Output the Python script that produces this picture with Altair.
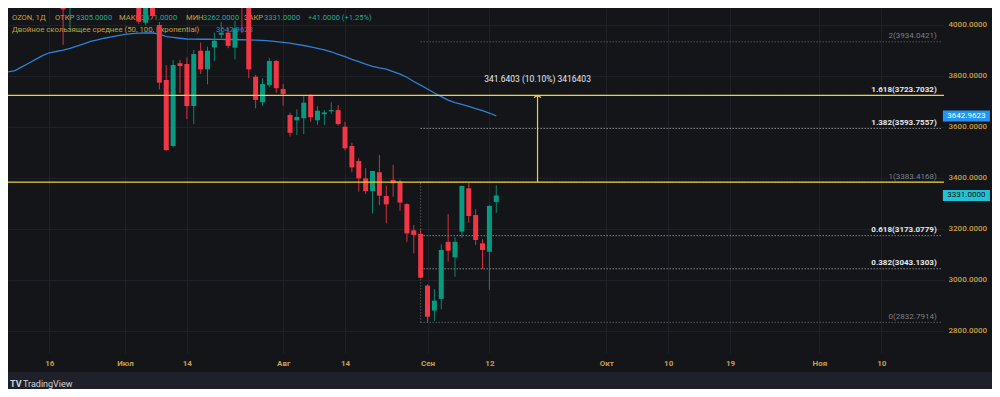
import altair as alt
import pandas as pd

# ---------------- data ----------------
bar_idx = [7, 8] + list(range(18, 71))
open_p = [4090, 4068, 4090, 4009, 4085, 4000, 3784, 3525, 3850, 3847, 3682, 3899, 3826, 3912, 3962,
          3970, 3911, 4095, 4080, 3797, 3697, 3764, 3859, 3749, 3647, 3626, 3634, 3723, 3626, 3650,
          3661, 3666, 3601, 3525, 3466, 3398, 3348, 3422, 3329, 3392, 3385, 3297, 3194, 3180, 2977,
          2879, 2925, 3149, 3088, 3189, 3359, 3254, 3143, 3110, 3305]
high_p = [4110, 4100, 4100, 4100, 4095, 4012, 3843, 3863, 3863, 3873, 3902, 3931, 3915, 3970, 4013,
          3987, 4017, 4110, 4090, 3804, 3791, 3870, 3863, 3768, 3656, 3669, 3721, 3728, 3682, 3666,
          3697, 3686, 3620, 3538, 3477, 3438, 3427, 3490, 3369, 3451, 3394, 3300, 3215, 3198, 2982,
          2963, 3139, 3258, 3167, 3370, 3379, 3277, 3159, 3292, 3371]
low_p = [3921.5, 3987, 4005, 4000, 4025, 3747.6, 3505, 3520, 3732, 3631, 3611, 3808, 3767, 3859, 3948,
         3909, 3865, 3968, 3791, 3673, 3683, 3755, 3734, 3683, 3562, 3568, 3572, 3620, 3608, 3608,
         3651, 3605, 3507, 3422, 3346, 3337, 3261, 3293, 3222, 3326, 3271, 3149, 3104, 3006, 2832.8,
         2838, 2884, 3071, 3012, 3165, 3224, 3137, 3042, 2960, 3262]
close_p = [4061.6, 4085, 4013, 4090, 4035, 3773.5, 3509, 3843, 3839, 3682, 3886, 3826, 3899, 3938, 3970,
           3918, 3987, 4080, 3826, 3706, 3768, 3859, 3752, 3729, 3577, 3639, 3695, 3638, 3664, 3657,
           3666, 3611, 3516, 3441, 3398, 3348, 3427, 3330, 3296, 3379, 3303, 3182, 3176, 3008, 2855,
           2918, 3117, 3114, 3149, 3368, 3250, 3156, 3117, 3290, 3331]

dema_idx = list(range(-1, 71))
dema_val = [3816, 3821, 3835.5, 3850, 3865, 3879.5, 3891, 3896, 3901, 3908, 3917, 3926, 3936, 3941.5,
            3948, 3953, 3958, 3963.5, 3966, 3968, 3969, 3968.5, 3965, 3954.5, 3951, 3948, 3945, 3944.5,
            3944, 3944, 3943.5, 3943.5, 3943, 3943, 3942, 3941.5, 3941, 3939.5, 3938, 3935, 3932, 3928.5,
            3924, 3919.5, 3914.5, 3908.5, 3902, 3895, 3885, 3875.5, 3865, 3856, 3846.5, 3838, 3831.5,
            3827, 3817, 3807, 3795, 3778, 3764, 3749, 3733, 3719, 3705, 3695.5, 3688.5, 3680.5, 3672,
            3664, 3654.5, 3642.9623]

time_tick_idx = [5, 16, 25, 39, 48, 60, 69, 86, 95, 104, 117, 126]
time_tick_lbl = ["16", "Июл", "14", "Авг", "14", "Сен", "12", "Окт", "10", "19", "Ноя", "10"]
price_ticks = list(range(2800, 4001, 100))

fib_ratio = ["0", "0.382", "0.618", "1", "1.382", "1.618", "2"]
fib_price = [2832.7914, 3043.1303, 3173.0779, 3383.4168, 3593.7557, 3723.7032, 3934.0421]
fib_anchor_idx = 59
hline_price = [3723.7032, 3383.4168]
range_idx = 76
range_text = "341.6403 (10.10%) 3416403"

# ---------------- styling ----------------
BG = "#131519"
GRID = "#1e2127"
GOLD = "#c9a043"
TEAL = "#22ab94"
UP = "#089981"
DOWN = "#f23645"
BLUE = "#2f80d6"
YELLOW = "#f2d22a"
FONT = "Roboto"

W, H = 936, 345
xs = alt.Scale(domain=[-0.288, 134.39], nice=False, zero=False)
ys = alt.Scale(domain=[2712.6, 4066.7], nice=False, zero=False)

candles = pd.DataFrame({"i": bar_idx, "o": open_p, "h": high_p, "l": low_p, "c": close_p})
candles["dir"] = ["up" if c >= o else "down" for o, c in zip(open_p, close_p)]
dema = pd.DataFrame({"i": dema_idx, "v": dema_val})
fib = pd.DataFrame({"ratio": fib_ratio, "p": fib_price})
fib["label"] = [f"{r}({p:.4f})" for r, p in zip(fib_ratio, fib_price)]
hl = pd.DataFrame({"p": hline_price})
one = pd.DataFrame({"k": [0]})  # single row for annotations

lbl_expr = ("[" + ",".join(f"'{t}'" for t in time_tick_lbl) + "][indexof(["
            + ",".join(str(v) for v in time_tick_idx) + "], datum.value)]")

color_enc = alt.Color("dir:N", scale=alt.Scale(domain=["up", "down"], range=[UP, DOWN]), legend=None)

base_axis_layer = alt.Chart(candles).mark_rule(opacity=0).encode(
    x=alt.X("i:Q", scale=xs, axis=alt.Axis(values=time_tick_idx, labelExpr=lbl_expr, title=None,
                                          grid=True, gridColor=GRID, ticks=False, tickSize=0,
                                          domain=False, labelColor=GOLD, labelFont=FONT,
                                          labelFontSize=8, labelFontWeight="bold",
                                          labelPadding=10, labelBaseline="middle", labelFlush=False)),
    y=alt.Y("l:Q", scale=ys, axis=alt.Axis(values=price_ticks, format=".4f", orient="right", title=None,
                                          grid=True, gridColor=GRID, ticks=False, tickSize=0,
                                          domain=False, labelColor=GOLD, labelFont=FONT,
                                          labelFontSize=8, labelFontWeight=500, labelAlign="left",
                                          labelPadding=4, labelBaseline="middle", labelFlush=False)),
)


def txt(text, x, y, color, size=8, weight="normal", align="left", baseline="alphabetic"):
    return alt.Chart(one).mark_text(align=align, baseline=baseline, font=FONT, fontSize=size,
                                    fontWeight=weight, color=color).encode(
        x=alt.value(x), y=alt.value(y), text=alt.value(text))


# header text (drawn beneath candles, like the reference)
hdr1 = [("OZON, 1Д", 4, GOLD), ("ОТКР", 47, GOLD), (f"{open_p[-1]:.4f}", 68, TEAL),
        ("МАКС", 111, GOLD), (f"{high_p[-1]:.4f}", 133, TEAL), ("МИН", 178, GOLD),
        (f"{low_p[-1]:.4f}", 195, TEAL), ("ЗАКР", 236, GOLD), (f"{close_p[-1]:.4f}", 256, TEAL),
        (f"+{close_p[-1]-close_p[-2]:.4f} (+{(close_p[-1]/close_p[-2]-1)*100:.2f}%)", 300, TEAL)]
hdr2 = [("Двойное скользящее среднее (50, 100, Exponential)", 4, GOLD), (f"{dema_val[-1]:.4f}", 208, BLUE)]
hdr_layers = ([txt(t, x, 12, c, size=7.6) for t, x, c in hdr1]
              + [txt(t, x, 24, c, size=7.8) for t, x, c in hdr2])

dema_line = alt.Chart(dema).mark_line(color=BLUE, strokeWidth=1.3, clip=True).encode(
    x=alt.X("i:Q", scale=xs), y=alt.Y("v:Q", scale=ys))

wicks = alt.Chart(candles).mark_rule(strokeWidth=1, opacity=0.85, clip=True).encode(
    x=alt.X("i:Q", scale=xs), y=alt.Y("l:Q", scale=ys), y2="h:Q", color=color_enc)
bodies = alt.Chart(candles).mark_bar(size=5, clip=True).encode(
    x=alt.X("i:Q", scale=xs), y=alt.Y("o:Q", scale=ys), y2="c:Q", color=color_enc)

bright = ["0.382", "0.618", "1.382", "1.618"]
dim = ["0", "1", "2"]
fib_lines_b = alt.Chart(fib).mark_rule(color="#b8bbc2", strokeDash=[1, 2], strokeWidth=1).encode(
    x=alt.datum(fib_anchor_idx, scale=xs), x2=alt.value(933.7), y=alt.Y("p:Q", scale=ys)
).transform_filter(alt.FieldOneOfPredicate(field="ratio", oneOf=bright))
fib_lines_g = alt.Chart(fib).mark_rule(color="#6f727b", strokeDash=[1, 2], strokeWidth=1).encode(
    x=alt.datum(fib_anchor_idx, scale=xs), x2=alt.value(933.7), y=alt.Y("p:Q", scale=ys)
).transform_filter(alt.FieldOneOfPredicate(field="ratio", oneOf=dim))
fib_vert = alt.Chart(one).mark_rule(color="#6f727b", strokeDash=[1, 2], strokeWidth=1).encode(
    x=alt.datum(fib_anchor_idx, scale=xs), y=alt.datum(fib_price[0], scale=ys), y2=alt.datum(fib_price[3]))
fib_lbl_b = alt.Chart(fib).mark_text(align="right", baseline="alphabetic", dy=-3.5, font=FONT,
                                     fontSize=8, fontWeight="bold", color="#e8e9eb").encode(
    x=alt.value(928.7), y=alt.Y("p:Q", scale=ys), text="label:N"
).transform_filter(alt.FieldOneOfPredicate(field="ratio", oneOf=bright))
fib_lbl_g = alt.Chart(fib).mark_text(align="right", baseline="alphabetic", dy=-3.5, font=FONT,
                                     fontSize=8, color="#7c7f88").encode(
    x=alt.value(928.7), y=alt.Y("p:Q", scale=ys), text="label:N"
).transform_filter(alt.FieldOneOfPredicate(field="ratio", oneOf=dim))

yellow = alt.Chart(hl).mark_rule(color=YELLOW, strokeWidth=1.1).encode(
    x=alt.value(0), x2=alt.value(W), y=alt.Y("p:Q", scale=ys))

range_rule = alt.Chart(one).mark_rule(color=YELLOW, strokeWidth=1.2).encode(
    x=alt.datum(range_idx, scale=xs), y=alt.datum(hline_price[1], scale=ys), y2=alt.datum(hline_price[0]))
range_arrow = alt.Chart(one).mark_point(shape="M-1,0.6L0,0L1,0.6", filled=False, color=YELLOW,
                                        strokeWidth=1.2, size=49, opacity=1).encode(
    x=alt.datum(range_idx, scale=xs), y=alt.datum(hline_price[0], scale=ys))
range_lbl = alt.Chart(one).mark_text(font=FONT, fontSize=8.5, color="#e8e9eb", dy=-16,
                                     baseline="middle").encode(
    x=alt.datum(range_idx, scale=xs), y=alt.datum(hline_price[0], scale=ys), text=alt.value(range_text))

badge_dema = alt.Chart(one).mark_tick(orient="horizontal", size=47, thickness=11, color="#2196f3",
                                      opacity=1).encode(
    x=alt.value(958.4), y=alt.datum(dema_val[-1], scale=ys))
badge_dema_t = alt.Chart(one).mark_text(font=FONT, fontSize=8, color="#ffffff", baseline="middle").encode(
    x=alt.value(958.4), y=alt.datum(dema_val[-1], scale=ys), text=alt.value(f"{dema_val[-1]:.4f}"))
badge_close = alt.Chart(one).mark_tick(orient="horizontal", size=47, thickness=11, color="#1fc3d6",
                                       opacity=1).encode(
    x=alt.value(958.4), y=alt.datum(close_p[-1], scale=ys))
badge_close_t = alt.Chart(one).mark_text(font=FONT, fontSize=8, color="#0d1116", baseline="middle").encode(
    x=alt.value(958.4), y=alt.datum(close_p[-1], scale=ys), text=alt.value(f"{close_p[-1]:.4f}"))

strip = alt.Chart(one).mark_rect(color="#1e212a").encode(
    x=alt.value(0), x2=alt.value(984), y=alt.value(364), y2=alt.value(381))
logo = txt("TV", 2, 376, "#d1d4dc", size=9, weight="bold", baseline="middle")
logo_t = txt("TradingView", 15, 376, "#d1d4dc", size=9, baseline="middle")

chart = alt.layer(
    base_axis_layer, *hdr_layers, fib_vert, fib_lines_g, fib_lines_b, dema_line, wicks, bodies,
    yellow, range_rule, range_arrow, range_lbl, fib_lbl_g, fib_lbl_b,
    badge_dema, badge_dema_t, badge_close, badge_close_t, strip, logo, logo_t
).properties(
    width=W, height=H,
    autosize=alt.AutoSizeParams(type="none"),
    padding={"left": 0, "top": 0, "right": 48, "bottom": 36},
    background=BG,
).configure_view(stroke=None, fill=BG)

chart.save("out.html", embed_options={"renderer": "svg", "actions": False})
